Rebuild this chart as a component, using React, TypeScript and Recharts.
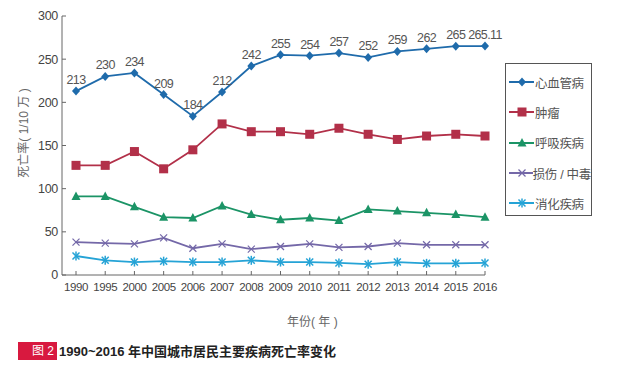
import React from 'react';
import { LineChart, Line, XAxis, YAxis, LabelList } from 'recharts';

const years = ['1990', '1995', '2000', '2005', '2006', '2007', '2008', '2009', '2010', '2011', '2012', '2013', '2014', '2015', '2016'];
const cardio = [213, 230, 234, 209, 184, 212, 242, 255, 254, 257, 252, 259, 262, 265, 265.11];
const tumor = [127, 127, 143, 123, 145, 175, 166, 166, 163, 170, 163, 157, 161, 163, 161];
const respiratory = [91, 91, 79, 67, 66, 80, 70, 64, 66, 63, 76, 74, 72, 70, 67];
const injury = [38, 37, 36, 43, 31, 36, 30, 33, 36, 32, 33, 37, 35, 35, 35];
const digestive = [22, 17, 15, 16, 15, 15, 17, 15, 15, 14, 12.5, 15, 13.5, 13.5, 14];
const yTicks = [0, 50, 100, 150, 200, 250, 300];

const series = [
  { key: 'cardio', name: '心血管病', color: '#1f6bab', marker: 'diamond' },
  { key: 'tumor', name: '肿瘤', color: '#b23049', marker: 'square' },
  { key: 'respiratory', name: '呼吸疾病', color: '#1b9466', marker: 'triangle' },
  { key: 'injury', name: '损伤 / 中毒', color: '#7468a8', marker: 'cross' },
  { key: 'digestive', name: '消化疾病', color: '#25a3d6', marker: 'star' },
];

const data = years.map((year, i) => ({
  year,
  cardio: cardio[i],
  tumor: tumor[i],
  respiratory: respiratory[i],
  injury: injury[i],
  digestive: digestive[i],
}));

const FONT = '"Liberation Sans", "Noto Sans CJK SC", sans-serif';

function Marker({ cx, cy, color, type }: { cx: number; cy: number; color: string; type: string }) {
  if (cx == null || cy == null) return null;
  if (type === 'diamond') {
    return <polygon points={`${cx},${cy - 4.5} ${cx + 4},${cy} ${cx},${cy + 4.5} ${cx - 4},${cy}`} fill={color} />;
  }
  if (type === 'square') {
    return <rect x={cx - 4.5} y={cy - 4.5} width={9} height={9} fill={color} />;
  }
  if (type === 'triangle') {
    return <polygon points={`${cx},${cy - 5} ${cx + 4.5},${cy + 3.5} ${cx - 4.5},${cy + 3.5}`} fill={color} />;
  }
  if (type === 'cross') {
    return (
      <g stroke={color} strokeWidth={1.2}>
        <line x1={cx - 3.5} y1={cy - 3.5} x2={cx + 3.5} y2={cy + 3.5} />
        <line x1={cx - 3.5} y1={cy + 3.5} x2={cx + 3.5} y2={cy - 3.5} />
      </g>
    );
  }
  return (
    <g stroke={color} strokeWidth={1.5}>
      <line x1={cx - 3.5} y1={cy - 3.5} x2={cx + 3.5} y2={cy + 3.5} />
      <line x1={cx - 3.5} y1={cy + 3.5} x2={cx + 3.5} y2={cy - 3.5} />
      <line x1={cx} y1={cy - 4.5} x2={cx} y2={cy + 4.5} />
    </g>
  );
}

function LegendBox() {
  return (
    <div
      style={{
        position: 'absolute',
        left: 505,
        top: 63,
        border: '1px solid #555',
        background: '#fff',
        width: 87,
        height: 153,
        boxSizing: 'border-box',
        paddingTop: 3,
      }}
    >
      {series.map((s) => (
        <div key={s.key} style={{ display: 'flex', alignItems: 'center', height: 30.3, whiteSpace: 'nowrap' }}>
          <svg width={27} height={12} style={{ marginLeft: 2 }}>
            <line x1={1} y1={6} x2={26} y2={6} stroke={s.color} strokeWidth={2} />
            <Marker cx={14} cy={6} color={s.color} type={s.marker} />
          </svg>
          <span style={{ fontSize: 12.5, color: '#555', letterSpacing: -0.3 }}>{s.name}</span>
        </div>
      ))}
    </div>
  );
}

export default function App() {
  return (
    <div style={{ position: 'fixed', left: 0, top: 0, width: 626, height: 381, background: '#fff', fontFamily: FONT }}>
      <LineChart width={626} height={381} data={data} margin={{ top: 16, right: 141, bottom: 76, left: 22 }}>
        <XAxis
          dataKey="year"
          padding={{ left: 14, right: 0 }}
          stroke="#666"
          tickSize={-4}
          tickMargin={12}
          height={30}
          interval={0}
          tick={{ fill: '#444', fontSize: 11.5, fontFamily: FONT, letterSpacing: -0.4 }}
        />
        <YAxis
          domain={[0, 300]}
          ticks={yTicks}
          width={40}
          stroke="#666"
          tickSize={-4}
          tickMargin={8}
          tick={{ fill: '#444', fontSize: 12.5, fontFamily: FONT, letterSpacing: -0.3 }}
        />
        {series.map((s) => (
          <Line
            key={s.key}
            dataKey={s.key}
            name={s.name}
            stroke={s.color}
            strokeWidth={1.8}
            isAnimationActive={false}
            dot={(p: any) => <Marker key={`${s.key}-${p.index}`} cx={p.cx} cy={p.cy} color={s.color} type={s.marker} />}
            activeDot={false}
          >
            {s.key === 'cardio' && (
              <LabelList dataKey="cardio" position="top" offset={7} fill="#555" fontSize={12.5} fontFamily={FONT} letterSpacing={-0.6} />
            )}
          </Line>
        ))}
      </LineChart>
      <LegendBox />
      <div
        style={{
          position: 'absolute',
          left: 22,
          top: 133,
          transform: 'translate(-50%, -50%) rotate(-90deg)',
          whiteSpace: 'nowrap',
          fontSize: 12,
          color: '#666',
        }}
      >
        死亡率( 1/10 万 )
      </div>
      <div style={{ position: 'absolute', left: 287, top: 312, fontSize: 12, color: '#666' }}>年份( 年 )</div>
      <div style={{ position: 'absolute', left: 18, top: 341, display: 'flex', alignItems: 'center' }}>
        <span
          style={{
            background: '#d8193f',
            color: '#fff',
            fontSize: 12,
            width: 39,
            height: 18,
            lineHeight: '18px',
            textAlign: 'right',
            paddingRight: 3,
            boxSizing: 'border-box',
          }}
        >
          图 2
        </span>
        <span style={{ marginLeft: 2, fontSize: 13, fontWeight: 600, color: '#222' }}>
          1990~2016 年中国城市居民主要疾病死亡率变化
        </span>
      </div>
    </div>
  );
}
